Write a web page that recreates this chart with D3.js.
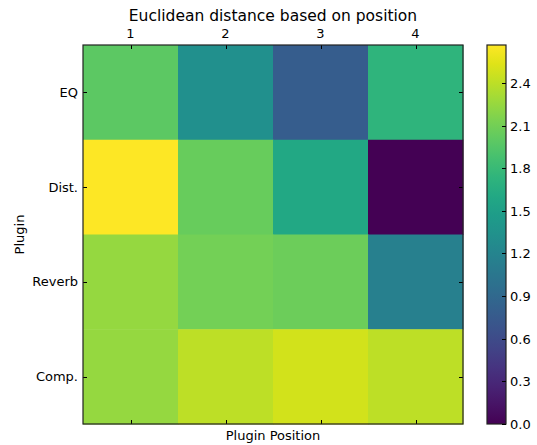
<!DOCTYPE html>
<html>
<head>
<meta charset="utf-8">
<script src="https://cdn.jsdelivr.net/npm/d3@7"></script>
<style>
  body { margin: 0; background: #fff; }
  svg { font-family: "DejaVu Sans", sans-serif; }
  .tick-label { font-size: 13px; fill: #000; }
</style>
</head>
<body>
<svg width="537" height="445"></svg>
<script>
//* data
const positions = ["1", "2", "3", "4"];
const plugins = ["EQ", "Dist.", "Reverb", "Comp."];
const distEQ = [2.0, 1.33, 0.78, 1.73];
const distDist = [2.667, 2.05, 1.6, 0.0];
const distReverb = [2.24, 2.1, 2.07, 1.15];
const distComp = [2.24, 2.4, 2.48, 2.4];
const cbTicks = [0.0, 0.3, 0.6, 0.9, 1.2, 1.5, 1.8, 2.1, 2.4];

const rows = [distEQ, distDist, distReverb, distComp];
const cells = [];
rows.forEach((r, i) => r.forEach((v, j) => cells.push({ plugin: plugins[i], pos: positions[j], v })));

const svg = d3.select("svg");
const mLeft = 83, mRight = 463, mTop = 45, mBottom = 424;

const x = d3.scaleBand().domain(positions).range([mLeft, mRight]);
const y = d3.scaleBand().domain(plugins).range([mTop, mBottom]);
const vmax = d3.max(cells, (d) => d.v);
const color = d3.scaleSequential(d3.interpolateViridis).domain([0, vmax]);

//* cells
svg.append("g")
  .selectAll("rect")
  .data(cells)
  .enter()
  .append("rect")
  .attr("x", (d) => x(d.pos))
  .attr("y", (d) => y(d.plugin))
  .attr("width", x.bandwidth() + 0.5)
  .attr("height", y.bandwidth() + 0.5)
  .attr("fill", (d) => color(d.v));

//* inward ticks on all sides
const tk = 4;
const ticks = svg.append("g").attr("stroke", "#000").attr("stroke-width", 1);
positions.forEach((p) => {
  const cx = Math.round(x(p) + x.bandwidth() / 2) + 0.5;
  ticks.append("line").attr("x1", cx).attr("x2", cx).attr("y1", mTop).attr("y2", mTop + tk);
  ticks.append("line").attr("x1", cx).attr("x2", cx).attr("y1", mBottom).attr("y2", mBottom - tk);
});
plugins.forEach((p) => {
  const cy = Math.round(y(p) + y.bandwidth() / 2) + 0.5;
  ticks.append("line").attr("x1", mLeft).attr("x2", mLeft + tk).attr("y1", cy).attr("y2", cy);
  ticks.append("line").attr("x1", mRight).attr("x2", mRight - tk).attr("y1", cy).attr("y2", cy);
});

//* frame
svg.append("rect")
  .attr("x", mLeft).attr("y", mTop)
  .attr("width", mRight - mLeft).attr("height", mBottom - mTop)
  .attr("fill", "none").attr("stroke", "#222").attr("stroke-width", 1.2);

//* tick labels
svg.append("g")
  .selectAll("text")
  .data(positions)
  .enter()
  .append("text")
  .attr("class", "tick-label")
  .attr("x", (d) => x(d) + x.bandwidth() / 2)
  .attr("y", mTop - 7)
  .attr("text-anchor", "middle")
  .text((d) => d);
svg.append("g")
  .selectAll("text")
  .data(plugins)
  .enter()
  .append("text")
  .attr("class", "tick-label")
  .attr("x", mLeft - 5)
  .attr("y", (d) => y(d) + y.bandwidth() / 2)
  .attr("dy", "0.35em")
  .attr("text-anchor", "end")
  .text((d) => d);

//* titles
svg.append("text")
  .attr("x", (mLeft + mRight) / 2).attr("y", 21)
  .attr("text-anchor", "middle")
  .attr("font-size", 15.5)
  .text("Euclidean distance based on position");
svg.append("text")
  .attr("x", (mLeft + mRight) / 2).attr("y", 440)
  .attr("text-anchor", "middle")
  .attr("font-size", 13)
  .text("Plugin Position");
svg.append("text")
  .attr("transform", `translate(24, ${(mTop + mBottom) / 2}) rotate(-90)`)
  .attr("text-anchor", "middle")
  .attr("font-size", 13)
  .text("Plugin");

//* colorbar
const cbL = 487, cbR = 506;
const cbScale = d3.scaleLinear().domain([0, vmax]).range([mBottom, mTop]);
const grad = svg.append("defs").append("linearGradient")
  .attr("id", "cb").attr("x1", 0).attr("x2", 0).attr("y1", 1).attr("y2", 0);
d3.range(0, 1.0001, 0.05).forEach((t) => {
  grad.append("stop").attr("offset", t).attr("stop-color", d3.interpolateViridis(t));
});
svg.append("rect")
  .attr("x", cbL).attr("y", mTop)
  .attr("width", cbR - cbL).attr("height", mBottom - mTop)
  .attr("fill", "url(#cb)")
  .attr("stroke", "#222").attr("stroke-width", 1.2);
const cbAxis = svg.append("g");
cbTicks.forEach((t) => {
  const ty = Math.round(cbScale(t)) + 0.5;
  cbAxis.append("line").attr("x1", cbR).attr("x2", cbR - tk).attr("y1", ty).attr("y2", ty).attr("stroke", "#000");
  cbAxis.append("text")
    .attr("class", "tick-label")
    .attr("x", cbR + 4).attr("y", ty)
    .attr("dy", "0.35em")
    .text(d3.format(".1f")(t));
});
</script>
</body>
</html>
